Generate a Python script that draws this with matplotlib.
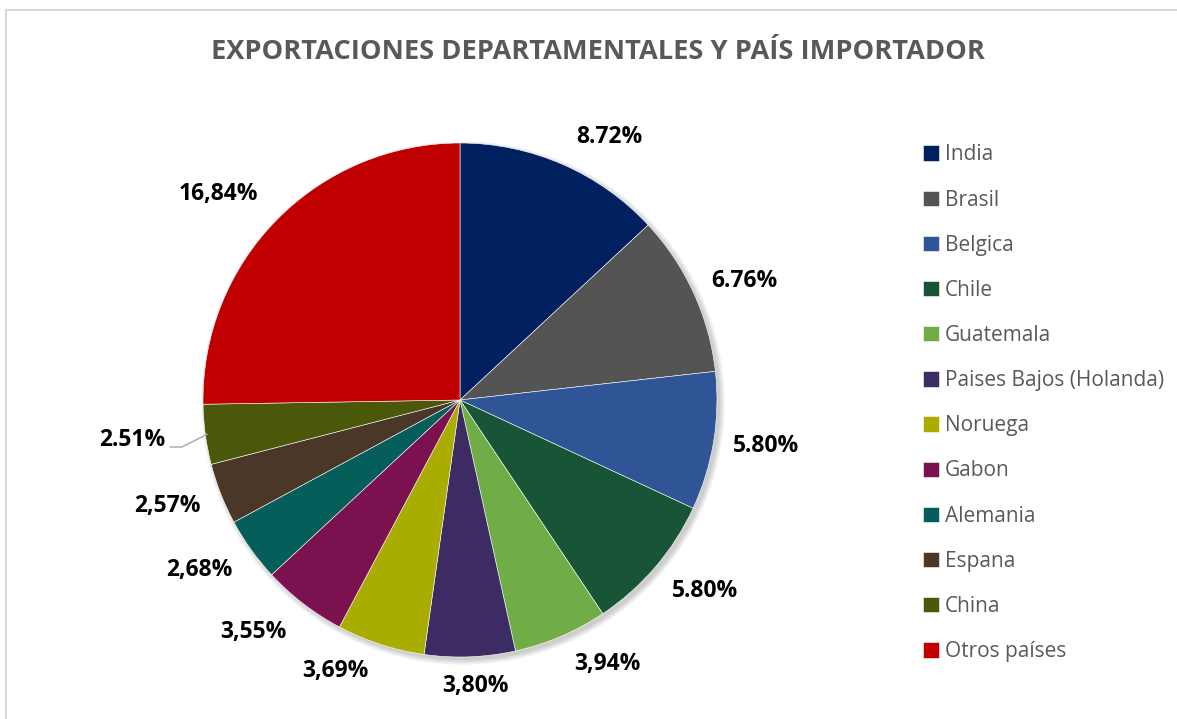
import numpy as np
import matplotlib
matplotlib.use("Agg")
import matplotlib.pyplot as plt
from matplotlib.patches import Rectangle, Circle

plt.rcParams['font.family'] = ['Open Sans', 'DejaVu Sans']

paises = ["India", "Brasil", "Belgica", "Chile", "Guatemala",
          "Paises Bajos (Holanda)", "Noruega", "Gabon", "Alemania",
          "Espana", "China", "Otros países"]
valores = [8.72, 6.76, 5.80, 5.80, 3.94, 3.80, 3.69, 3.55, 2.68, 2.57, 2.51, 16.84]
etiquetas = ["8.72%", "6.76%", "5.80%", "5.80%", "3,94%", "3,80%",
             "3,69%", "3,55%", "2,68%", "2,57%", "2.51%", "16,84%"]
colores = ["#002060", "#545454", "#2F5597", "#185537", "#70AD47", "#3D2B63",
           "#A9AD00", "#7B124F", "#055E5A", "#4A3728", "#4B5709", "#C00000"]

# label placement tweaks (angle shift in degrees, distance in radii)
ajuste_ang = [-6, -2, 0.8, 2.6, 6, 0.8, -6.8, -4.2, -2.4, -1.5, 0, 4.1]
dist_etiq = [1.175, 1.20, 1.205, 1.21, 1.175, 1.113, 1.16, 1.21, 1.21, 1.21, 1.2, 1.237]

W, H = 1177, 719
fig = plt.figure(figsize=(W / 100, H / 100), dpi=100)

# chart frame
fig.patches.append(Rectangle((6 / W, -0.1), 1.2, 1 - 10 / H + 0.1,
                             transform=fig.transFigure, fill=False,
                             edgecolor="#d9d9d9", linewidth=1.5))

# pie axes: centre (460, 400) px, radius 257 px
r = 257
lim = 1.5
size = 2 * lim * r
ax = fig.add_axes([(460 - size / 2) / W, (H - 400 - size / 2) / H, size / W, size / H])

# soft shadow
for k in range(4):
    ax.add_patch(Circle((0.012, -0.012), 1.0 + 0.006 * k, color="black",
                        alpha=0.05, zorder=0, linewidth=0))

wedges, texts = ax.pie(valores, colors=colores, startangle=90, counterclock=False,
                       labels=etiquetas, labeldistance=1.2,
                       wedgeprops=dict(edgecolor="white", linewidth=0.4),
                       textprops=dict(fontsize=16.5, fontweight="bold", color="black"))
ax.set_xlim(-lim, lim)
ax.set_ylim(-lim, lim)
ax.set_aspect("equal")
ax.axis("off")

for w, t, da, d in zip(wedges, texts, ajuste_ang, dist_etiq):
    a = np.deg2rad((w.theta1 + w.theta2) / 2 + da)
    t.set_position((d * np.cos(a), d * np.sin(a)))
    t.set_ha("center")
    t.set_va("center")

# China label pulled out with a leader line
w = wedges[10]
ang = np.deg2rad((w.theta1 + w.theta2) / 2)
x0, y0 = np.cos(ang), np.sin(ang)
ax.plot([0.993 * x0, 1.092 * x0, 1.138 * x0],
        [0.993 * y0, 1.36 * y0, 1.36 * y0],
        color="#a6a6a6", linewidth=1, clip_on=False)
texts[10].set_position((1.158 * x0, 1.16 * y0))
texts[10].set_ha("right")

fig.text(598 / W, 1 - 52 / H, "EXPORTACIONES DEPARTAMENTALES Y PAÍS IMPORTADOR",
         ha="center", va="center", fontsize=19.6, fontweight="bold", color="#595959")

leg = fig.legend(wedges, paises, loc="upper left", bbox_to_anchor=(915 / W, 1 - 136 / H),
                 frameon=False, fontsize=15, labelcolor="#595959",
                 handlelength=0.75, handleheight=0.75, handletextpad=0.3,
                 labelspacing=1.16, borderaxespad=0)

fig.savefig("out.png", dpi=100)
